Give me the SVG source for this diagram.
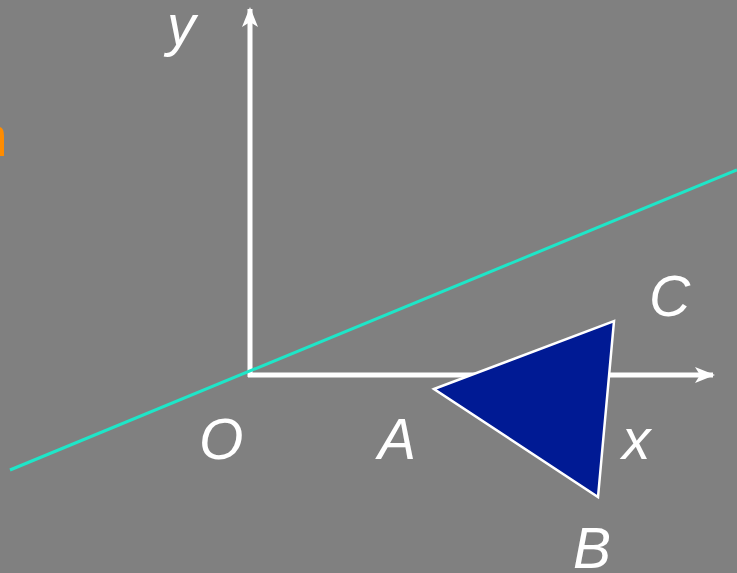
<svg xmlns="http://www.w3.org/2000/svg" width="737" height="573" viewBox="0 0 737 573">
<defs>
<style>
.lbl{font-family:"Liberation Sans",Arial,sans-serif;font-style:italic;font-size:57px;fill:#ffffff}
.axis{stroke:#ffffff;stroke-width:5;fill:none}
</style>
<marker id="ah" viewBox="0 0 20 16" refX="18" refY="8" markerWidth="20" markerHeight="16" markerUnits="userSpaceOnUse" orient="auto">
<path d="M0,0 L20,8 L0,16 L5,8 Z" fill="#ffffff"/>
</marker>
</defs>
<rect width="737" height="573" fill="#808080"/>
<path d="M0,127 Q4,128 4,136 L4,156 L0,156 Z" fill="#ff8c00"/>
<g id="connectors">
<line class="axis" x1="250" y1="377" x2="250" y2="9" marker-end="url(#ah)"/>
<line class="axis" x1="248" y1="375" x2="713" y2="375" marker-end="url(#ah)"/>
<line x1="10" y1="470" x2="737" y2="170" stroke="#1ee6c8" stroke-width="3"/>
</g>
<g id="triangle">
<polygon points="434,389 614,321 598,497" fill="#001a94" stroke="#ffffff" stroke-width="2.5" stroke-linejoin="miter"/>
</g>
<g id="labels">
<text class="lbl" x="167" y="45">y</text>
<text class="lbl" x="199" y="459">O</text>
<text class="lbl" x="378" y="459">A</text>
<text class="lbl" x="622" y="459">x</text>
<text class="lbl" x="649" y="316">C</text>
<text class="lbl" x="573" y="568">B</text>
</g>
</svg>
